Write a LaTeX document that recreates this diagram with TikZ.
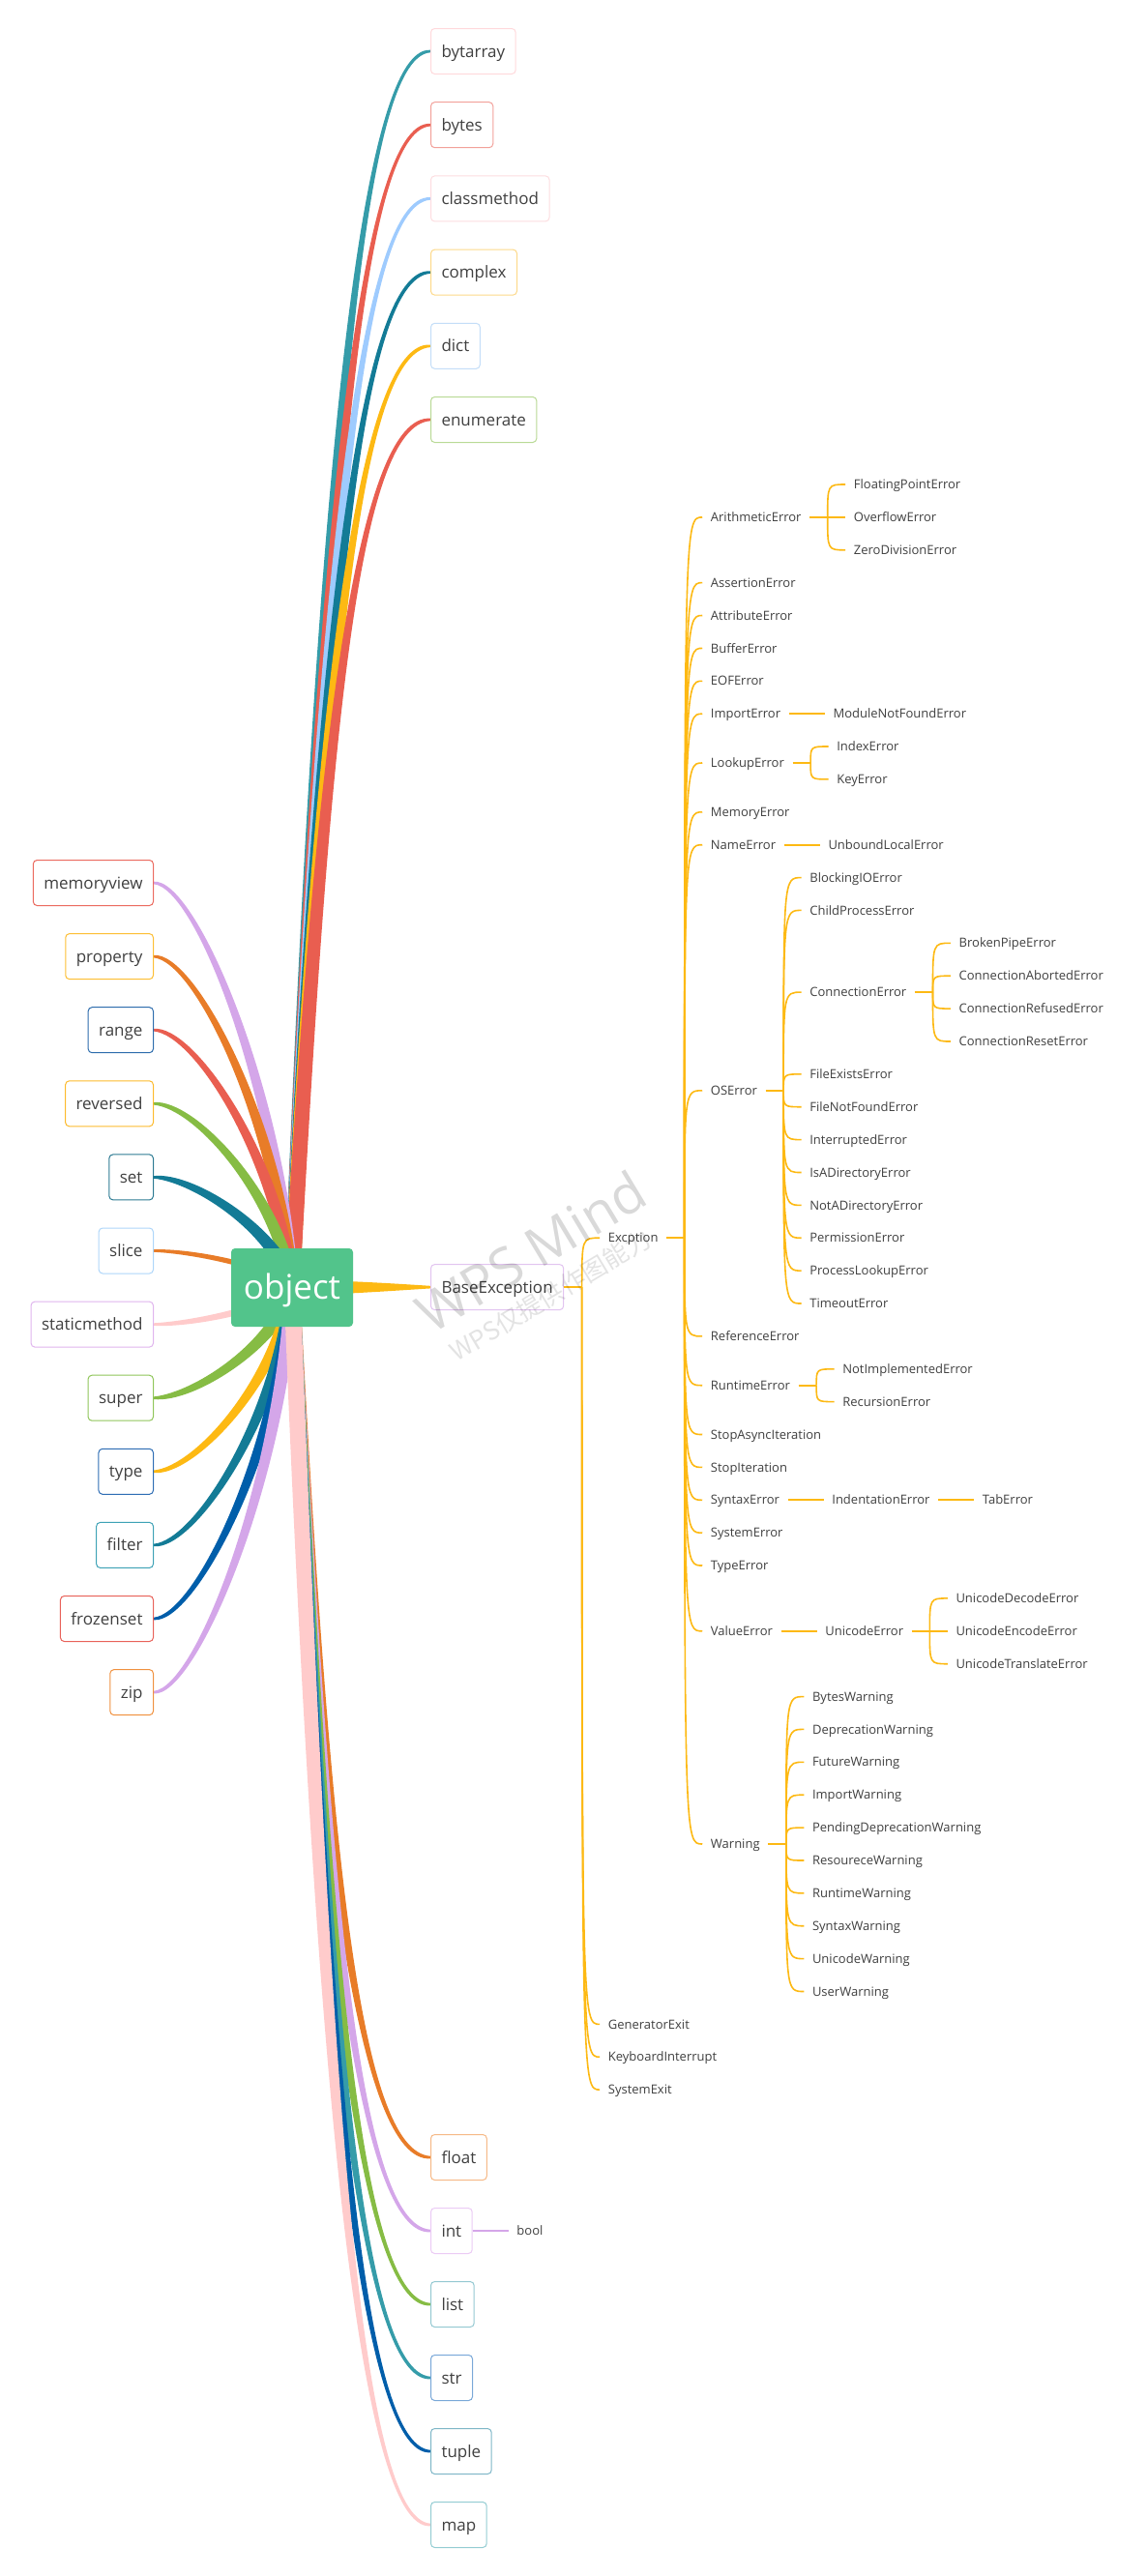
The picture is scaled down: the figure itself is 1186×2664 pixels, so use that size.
\documentclass[tikz,border=0pt]{standalone}
\usepackage{fontspec}
\setmainfont{Open Sans}
\newfontfamily\cjkfont{Noto Sans CJK SC}
\usetikzlibrary{calc}
\pgfdeclarelayer{back}
\pgfdeclarelayer{bg}
\pgfsetlayers{back,bg,main}
\definecolor{txtc}{HTML}{404040}
\definecolor{cTeal}{HTML}{359CA9}
\definecolor{cRed}{HTML}{E95E50}
\definecolor{cLBlue}{HTML}{9ECBFE}
\definecolor{cDTeal}{HTML}{137B96}
\definecolor{cYel}{HTML}{FDB913}
\definecolor{cPurp}{HTML}{D4A6E9}
\definecolor{cOrg}{HTML}{E87C28}
\definecolor{cGrn}{HTML}{86BC44}
\definecolor{cPink}{HTML}{FFCBCB}
\definecolor{cBlue}{HTML}{005EAA}
\definecolor{cObj}{HTML}{52C48B}
% box borders
\definecolor{kbytarray}{HTML}{FFD9DC}
\definecolor{kbytes}{HTML}{F2A19A}
\definecolor{kclassmethod}{HTML}{FDDDE0}
\definecolor{kcomplex}{HTML}{FDD98A}
\definecolor{kdict}{HTML}{C4DEF8}
\definecolor{kenumerate}{HTML}{B9DA96}
\definecolor{kmemoryview}{HTML}{EB6B60}
\definecolor{kproperty}{HTML}{FDBF35}
\definecolor{krange}{HTML}{2E6DAD}
\definecolor{kreversed}{HTML}{FDBA2C}
\definecolor{kset}{HTML}{2C7A92}
\definecolor{kslice}{HTML}{AED6FA}
\definecolor{kstaticmethod}{HTML}{E0B5EE}
\definecolor{ksuper}{HTML}{90C65A}
\definecolor{ktype}{HTML}{2E6DB4}
\definecolor{kfilter}{HTML}{3EA2B6}
\definecolor{kfrozenset}{HTML}{E8625A}
\definecolor{kzip}{HTML}{F0913F}
\definecolor{kfloat}{HTML}{F6B987}
\definecolor{kint}{HTML}{EBCBF5}
\definecolor{klist}{HTML}{95C9D2}
\definecolor{kstr}{HTML}{7AA8D8}
\definecolor{ktuple}{HTML}{7FB7C7}
\definecolor{kmap}{HTML}{95CDD3}
\definecolor{kbase}{HTML}{E2C4F0}

\tikzset{
  box/.style={draw=#1, line width=1pt, rounded corners=4pt, fill=white,
    minimum height=47pt, inner xsep=11pt, inner ysep=0pt,
    text height=12.1pt, text depth=0pt, text=txtc,
    font=\fontsize{17}{20}\selectfont},
  obj/.style={fill=cObj, rounded corners=4pt, minimum width=126pt,
    minimum height=81pt, text=white, text height=24.5pt, text depth=0pt,
    font=\fontsize{35}{40}\selectfont},
  lf/.style={anchor=west, inner xsep=8.5pt, inner ysep=1pt, text=txtc,
    text height=9.3pt, text depth=0pt, font=\fontsize{13}{15}\selectfont},
  tline/.style={draw=cYel, line width=2.2pt},
  tcurve/.style={draw=cYel, line width=1.6pt},
  wm/.style={text=black, anchor=base}
}

% tapered main branch: color, from, to, a, b, c, half width
\newcommand\mb[7]{%
 \fill[#1] let \p0=(#2), \p3=(#3),
   \p1=({\x0+#4*(\x3-\x0)},{\y0+#5*(\y3-\y0)}),
   \p2=({\x3-#6*(\x3-\x0)},\y3),
   \n1={atan2(\y1-\y0,\x1-\x0)+90},
   \n2={atan2(\y3-\y2,\x3-\x2)+90},
   \n3={#7}, \n4={1.3}
 in ({\x0+\n3*cos(\n1)},{\y0+\n3*sin(\n1)})
   .. controls ({\x1+0.9*\n3*cos(\n1)},{\y1+0.9*\n3*sin(\n1)}) and ({\x2+0.75*\n3*cos(\n2)},{\y2+0.75*\n3*sin(\n2)})
   .. ({\x3+\n4*cos(\n2)},{\y3+\n4*sin(\n2)})
   -- ({\x3-\n4*cos(\n2)},{\y3-\n4*sin(\n2)})
   .. controls ({\x2-0.75*\n3*cos(\n2)},{\y2-0.75*\n3*sin(\n2)}) and ({\x1-0.9*\n3*cos(\n1)},{\y1-0.9*\n3*sin(\n1)})
   .. ({\x0-\n3*cos(\n1)},{\y0-\n3*sin(\n1)}) -- cycle;
}
\newcommand\cx[1]{\coordinate (#1X) at ([xshift=37pt]#1.east);}
\newcommand\jn[1]{\coordinate (#1J) at ([xshift=18.5pt]#1.east); \draw[tline] (#1.east) -- (#1J);}
\newcommand\hk[2]{\draw[tcurve] (#1J) .. controls (#1J |- #2.west) .. (#2.west);}

\begin{document}
\begin{tikzpicture}[x=1pt,y=-1pt]
\useasboundingbox (0,0) rectangle (1186,2664);
\begin{pgfonlayer}{back}
\fill[white] (0,0) rectangle (1186,2664);
\end{pgfonlayer}

% ---- root
\node[obj] (object) at (302,1331.5) {object};

% ---- top boxes
\node[box=kbytarray, anchor=west] (bytarray) at (445,53) {bytarray};
\node[box=kbytes, anchor=west] (bytes) at (445,129.2) {bytes};
\node[box=kclassmethod, anchor=west] (classmethod) at (445,205.4) {classmethod};
\node[box=kcomplex, anchor=west] (complex) at (445,281.6) {complex};
\node[box=kdict, anchor=west] (dict) at (445,357.8) {dict};
\node[box=kenumerate, anchor=west] (enumerate) at (445,434) {enumerate};

% ---- left boxes
\node[box=kmemoryview, anchor=east] (memoryview) at (159,913) {memoryview};
\node[box=kproperty, anchor=east] (property) at (159,989.1) {property};
\node[box=krange, anchor=east] (range) at (159,1065.2) {range};
\node[box=kreversed, anchor=east] (reversed) at (159,1141.3) {reversed};
\node[box=kset, anchor=east] (set) at (159,1217.4) {set};
\node[box=kslice, anchor=east] (slice) at (159,1293.5) {slice};
\node[box=kstaticmethod, anchor=east] (staticmethod) at (159,1369.6) {staticmethod};
\node[box=ksuper, anchor=east] (super) at (159,1445.7) {super};
\node[box=ktype, anchor=east] (type) at (159,1521.8) {type};
\node[box=kfilter, anchor=east] (filter) at (159,1597.9) {filter};
\node[box=kfrozenset, anchor=east] (frozenset) at (159,1674) {frozenset};
\node[box=kzip, anchor=east] (zip) at (159,1750.1) {zip};

% ---- bottom boxes
\node[box=kfloat, anchor=west] (float) at (445,2231) {float};
\node[box=kint, anchor=west] (int) at (445,2307) {int};
\node[box=klist, anchor=west] (list) at (445,2383) {list};
\node[box=kstr, anchor=west] (str) at (445,2459) {str};
\node[box=ktuple, anchor=west] (tuple) at (445,2535) {tuple};
\node[box=kmap, anchor=west] (map) at (445,2611) {map};
\node[lf] (bool) at ([xshift=37pt]int.east) {bool};
\draw[cPurp, line width=2pt] (int.east) -- (bool.west);

% ---- BaseException tree
\node[box=kbase, anchor=west] (base) at (445,1331.1) {BaseException};
\cx{base}
\node[lf] (exc) at (baseX |- 0,1280.2) {Excption};
\node[lf] (genexit) at (baseX |- 0,2093.4) {GeneratorExit};
\node[lf] (kbint) at (baseX |- 0,2127.2) {KeyboardInterrupt};
\node[lf] (sysexit) at (baseX |- 0,2161.1) {SystemExit};
\cx{exc}
\node[lf] (arith) at (excX |- 0,534.9) {ArithmeticError};
\node[lf] (assert) at (excX |- 0,602.6) {AssertionError};
\node[lf] (attr) at (excX |- 0,636.5) {AttributeError};
\node[lf] (buffer) at (excX |- 0,670.4) {BufferError};
\node[lf] (eof) at (excX |- 0,704.3) {EOFError};
\node[lf] (import) at (excX |- 0,738.2) {ImportError};
\node[lf] (lookup) at (excX |- 0,789.0) {LookupError};
\node[lf] (memory) at (excX |- 0,839.8) {MemoryError};
\node[lf] (nameerr) at (excX |- 0,873.7) {NameError};
\node[lf] (os) at (excX |- 0,1127.8) {OSError};
\node[lf] (ref) at (excX |- 0,1381.9) {ReferenceError};
\node[lf] (runtime) at (excX |- 0,1432.7) {RuntimeError};
\node[lf] (stopasync) at (excX |- 0,1483.5) {StopAsyncIteration};
\node[lf] (stopiter) at (excX |- 0,1517.4) {StopIteration};
\node[lf] (syntax) at (excX |- 0,1551.3) {SyntaxError};
\node[lf] (syserr) at (excX |- 0,1585.2) {SystemError};
\node[lf] (typeerr) at (excX |- 0,1619.0) {TypeError};
\node[lf] (value) at (excX |- 0,1686.8) {ValueError};
\node[lf] (warning) at (excX |- 0,1907.0) {Warning};
\cx{arith}
\node[lf] (fpe) at (arithX |- 0,501.0) {FloatingPointError};
\node[lf] (ovf) at (arithX |- 0,534.9) {OverflowError};
\node[lf] (zde) at (arithX |- 0,568.8) {ZeroDivisionError};
\cx{import}
\node[lf] (mnf) at (importX |- 0,738.2) {ModuleNotFoundError};
\cx{lookup}
\node[lf] (idx) at (lookupX |- 0,772.0) {IndexError};
\node[lf] (key) at (lookupX |- 0,805.9) {KeyError};
\cx{nameerr}
\node[lf] (ulocal) at (nameerrX |- 0,873.7) {UnboundLocalError};
\cx{os}
\node[lf] (blocking) at (osX |- 0,907.6) {BlockingIOError};
\node[lf] (childproc) at (osX |- 0,941.4) {ChildProcessError};
\node[lf] (conn) at (osX |- 0,1026.1) {ConnectionError};
\node[lf] (fexists) at (osX |- 0,1110.8) {FileExistsError};
\node[lf] (fnotfound) at (osX |- 0,1144.7) {FileNotFoundError};
\node[lf] (interrupted) at (osX |- 0,1178.6) {InterruptedError};
\node[lf] (isadir) at (osX |- 0,1212.5) {IsADirectoryError};
\node[lf] (notadir) at (osX |- 0,1246.4) {NotADirectoryError};
\node[lf] (perm) at (osX |- 0,1280.2) {PermissionError};
\node[lf] (proclookup) at (osX |- 0,1314.1) {ProcessLookupError};
\node[lf] (timeout) at (osX |- 0,1348.0) {TimeoutError};
\cx{conn}
\node[lf] (broken) at (connX |- 0,975.3) {BrokenPipeError};
\node[lf] (aborted) at (connX |- 0,1009.2) {ConnectionAbortedError};
\node[lf] (refused) at (connX |- 0,1043.1) {ConnectionRefusedError};
\node[lf] (reset) at (connX |- 0,1077.0) {ConnectionResetError};
\cx{runtime}
\node[lf] (notimpl) at (runtimeX |- 0,1415.8) {NotImplementedError};
\node[lf] (recursion) at (runtimeX |- 0,1449.6) {RecursionError};
\cx{syntax}
\node[lf] (indent) at (syntaxX |- 0,1551.3) {IndentationError};
\cx{indent}
\node[lf] (tab) at (indentX |- 0,1551.3) {TabError};
\cx{value}
\node[lf] (unicode) at (valueX |- 0,1686.8) {UnicodeError};
\cx{unicode}
\node[lf] (udec) at (unicodeX |- 0,1652.9) {UnicodeDecodeError};
\node[lf] (uenc) at (unicodeX |- 0,1686.8) {UnicodeEncodeError};
\node[lf] (utrans) at (unicodeX |- 0,1720.7) {UnicodeTranslateError};
\cx{warning}
\node[lf] (bytesw) at (warningX |- 0,1754.6) {BytesWarning};
\node[lf] (deprec) at (warningX |- 0,1788.4) {DeprecationWarning};
\node[lf] (future) at (warningX |- 0,1822.3) {FutureWarning};
\node[lf] (importw) at (warningX |- 0,1856.2) {ImportWarning};
\node[lf] (pending) at (warningX |- 0,1890.1) {PendingDeprecationWarning};
\node[lf] (resource) at (warningX |- 0,1924.0) {ResoureceWarning};
\node[lf] (runtimew) at (warningX |- 0,1957.8) {RuntimeWarning};
\node[lf] (syntaxw) at (warningX |- 0,1991.7) {SyntaxWarning};
\node[lf] (unicodew) at (warningX |- 0,2025.6) {UnicodeWarning};
\node[lf] (userw) at (warningX |- 0,2059.5) {UserWarning};

% ---- tree connectors
\jn{base}
\foreach \c in {exc,genexit,kbint,sysexit} {\hk{base}{\c}}
\jn{exc}
\foreach \c in {arith,assert,attr,buffer,eof,import,lookup,memory,nameerr,os,ref,runtime,stopasync,stopiter,syntax,syserr,typeerr,value,warning} {\hk{exc}{\c}}
\jn{arith}
\foreach \c in {fpe,ovf,zde} {\hk{arith}{\c}}
\draw[tline] (import.east) -- (mnf.west);
\jn{lookup}
\foreach \c in {idx,key} {\hk{lookup}{\c}}
\draw[tline] (nameerr.east) -- (ulocal.west);
\jn{os}
\foreach \c in {blocking,childproc,conn,fexists,fnotfound,interrupted,isadir,notadir,perm,proclookup,timeout} {\hk{os}{\c}}
\jn{conn}
\foreach \c in {broken,aborted,refused,reset} {\hk{conn}{\c}}
\jn{runtime}
\foreach \c in {notimpl,recursion} {\hk{runtime}{\c}}
\draw[tline] (syntax.east) -- (indent.west);
\draw[tline] (indent.east) -- (tab.west);
\draw[tline] (value.east) -- (unicode.west);
\jn{unicode}
\foreach \c in {udec,uenc,utrans} {\hk{unicode}{\c}}
\jn{warning}
\foreach \c in {bytesw,deprec,future,importw,pending,resource,runtimew,syntaxw,unicodew,userw} {\hk{warning}{\c}}

% ---- main tapered branches
\begin{pgfonlayer}{bg}
\mb{cTeal}{object.center}{bytarray.west}{0.22}{0.64}{0.52}{8}
\mb{cRed}{object.center}{bytes.west}{0.22}{0.64}{0.52}{8}
\mb{cLBlue}{object.center}{classmethod.west}{0.22}{0.64}{0.52}{8}
\mb{cDTeal}{object.center}{complex.west}{0.22}{0.64}{0.52}{8}
\mb{cYel}{object.center}{dict.west}{0.22}{0.64}{0.52}{8}
\mb{cRed}{object.center}{enumerate.west}{0.22}{0.64}{0.52}{8}
\mb{cPurp}{object.center}{memoryview.east}{0.1}{0.5}{0.3}{7}
\mb{cOrg}{object.center}{property.east}{0.1}{0.5}{0.3}{7}
\mb{cRed}{object.center}{range.east}{0.1}{0.5}{0.3}{7}
\mb{cGrn}{object.center}{reversed.east}{0.1}{0.5}{0.3}{7}
\mb{cDTeal}{object.center}{set.east}{0.1}{0.5}{0.3}{8}
\mb{cOrg}{object.center}{slice.east}{0.1}{0.5}{0.3}{4}
\mb{cPink}{object.center}{staticmethod.east}{0.1}{0.5}{0.3}{5}
\mb{cGrn}{object.center}{super.east}{0.1}{0.5}{0.3}{8}
\mb{cYel}{object.center}{type.east}{0.1}{0.5}{0.3}{7}
\mb{cDTeal}{object.center}{filter.east}{0.1}{0.5}{0.3}{7}
\mb{cBlue}{object.center}{frozenset.east}{0.1}{0.5}{0.3}{7}
\mb{cPurp}{object.center}{zip.east}{0.1}{0.5}{0.3}{7}
\mb{cOrg}{object.center}{float.west}{0.22}{0.64}{0.52}{8}
\mb{cPurp}{object.center}{int.west}{0.22}{0.64}{0.52}{8}
\mb{cGrn}{object.center}{list.west}{0.22}{0.64}{0.52}{8}
\mb{cTeal}{object.center}{str.west}{0.22}{0.64}{0.52}{8}
\mb{cBlue}{object.center}{tuple.west}{0.22}{0.64}{0.52}{8}
\mb{cPink}{object.center}{map.west}{0.22}{0.64}{0.52}{8.5}
\mb{cYel}{object.center}{base.west}{0.3}{0}{0.5}{8}
\end{pgfonlayer}

% ---- watermark
\node[wm, rotate=31, opacity=0.15, font=\fontsize{56}{64}\selectfont] (wm1) at (560,1312) {WPS Mind};
\node[wm, rotate=31, opacity=0.11, font=\cjkfont\fontsize{26}{30}\selectfont] (wm2) at (574,1348) {WPS仅提供作图能力};
\end{tikzpicture}
\end{document}
